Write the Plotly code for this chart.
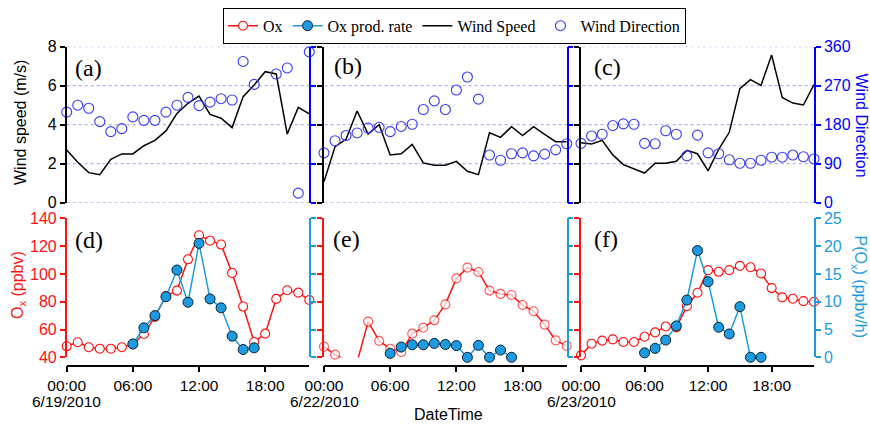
import plotly.graph_objects as go

# Hour of day for each hourly sample
hours = list(range(23))

# Wind speed (m/s) and wind direction (deg), per day
ws_0619 = [2.70, 2.07, 1.54, 1.44, 2.22, 2.50, 2.50, 2.92, 3.20, 3.68, 4.58, 5.10,
           5.47, 4.53, 4.33, 3.85, 5.44, 6.04, 6.72, 6.60, 3.52, 4.89, 4.55]
wd_0619 = [209, 225, 218, 187, 164, 171, 198, 190, 190, 209, 225, 243,
           224, 232, 240, 237, 326, 273, None, 297, 311, 22, 348]

ws_0622 = [1.08, 2.87, 3.25, 4.70, 3.52, 4.00, 2.45, 2.51, 2.99, 2.04, 1.92, 1.92,
           2.12, 1.61, 1.44, 3.59, 3.35, 3.90, 3.44, 3.90, 3.50, 3.13, 3.13]
wd_0622 = [115, 143, 155, 161, 172, 174, 164, 176, 181, 215, 235, 215,
           260, 290, 239, 110, 98, 113, 115, 108, 112, 122, 136]

ws_0623 = [3.08, 3.01, 3.20, 2.45, 1.95, 1.74, 1.52, 2.02, 2.02, 2.12, 2.69, 2.51,
           1.63, 2.74, 3.61, 5.85, 6.31, 6.02, 7.57, 5.40, 5.11, 5.01, 6.05]
wd_0623 = [137, 154, 158, 178, 182, 181, 137, 136, 166, 158, 108, 156,
           115, 113, 99, 91, 91, 98, 105, 105, 110, 106, 101]

# Ox (ppbv) and Ox production rate P(Ox) (ppbv/h), per day
ox_0619 = [47.9, 50.8, 47.2, 46.2, 46.2, 47.2, 49.4, 56.8, 69.0, 84.1, 88.0, 110.5,
           127.8, 123.9, 121.1, 100.7, 76.5, 51.0, 57.0, 82.0, 88.2, 86.5, 81.2]
pox_0619 = [None] * 6 + [2.4, 5.3, 7.5, 10.9, 15.7, 9.9, 20.5, 10.5, 8.9, 3.8, 1.4, 1.7] + [None] * 5

ox_0622 = [47.7, 41.9, 38.2, 36.5, 65.7, 51.8, 46.2, 43.8, 57.0, 61.3, 66.6, 78.1,
           96.8, 104.5, 101.4, 88.0, 85.6, 84.8, 77.6, 73.1, 63.5, 52.2, 48.2]
pox_0622 = [None] * 6 + [0.7, 1.85, 2.25, 2.25, 2.5, 2.3, 2.1, 0.0, 2.15, 0.0, 1.3, 0.0] + [None] * 5

ox_0623 = [41.4, 49.8, 52.0, 52.9, 51.0, 51.0, 54.8, 57.9, 62.2, 61.5, 76.8, 86.4,
           102.7, 101.5, 102.7, 105.8, 104.8, 100.3, 89.8, 83.1, 82.1, 80.4, 80.0]
pox_0623 = [None] * 6 + [0.8, 1.6, 3.1, 5.65, 10.3, 19.2, 13.6, 5.4, 4.2, 9.1, 0.0, 0.0] + [None] * 5

dates = ["6/19/2010", "6/22/2010", "6/23/2010"]
tick_hours = [0, 6, 12, 18]
tick_text = ["00:00", "06:00", "12:00", "18:00"]
ws_ticks = [0, 2, 4, 6, 8]
wd_ticks = [0, 90, 180, 270, 360]
ox_ticks = [40, 60, 80, 100, 120, 140]
pox_ticks = [0, 5, 10, 15, 20, 25]
panel_tags = ["(a)", "(b)", "(c)", "(d)", "(e)", "(f)"]

RED = "#ff1010"
LBLUE = "#1e9be0"
BLUE = "#0000ff"
WDBLUE = "#3a3af5"
SANS = "Liberation Sans, Arial, sans-serif"
SERIF = "Liberation Serif, Times New Roman, serif"

W, H = 870, 424
x_dom = [[66.7 / W, 309.3 / W], [324.0 / W, 566.7 / W], [581.0 / W, 814.0 / W]]
top_dom = [1 - 202.7 / H, 1 - 46.7 / H]
bot_dom = [1 - 357.3 / H, 1 - 218.3 / H]

fig = go.Figure()

ws_days = [ws_0619, ws_0622, ws_0623]
wd_days = [wd_0619, wd_0622, wd_0623]
ox_days = [ox_0619, ox_0622, ox_0623]
pox_days = [pox_0619, pox_0622, pox_0623]

for i in range(3):
    xa = "x" if i == 0 else f"x{i + 1}"
    y_ws = "y" if i == 0 else f"y{2 * i + 1}"
    y_wd = f"y{2 * i + 2}"
    y_ox = f"y{2 * i + 7}"
    y_px = f"y{2 * i + 8}"
    first = i == 0

    fig.add_trace(go.Scatter(
        x=hours, y=ws_days[i], xaxis=xa, yaxis=y_ws, mode="lines",
        line=dict(color="black", width=1.5), name="Wind Speed",
        legendgroup="ws", showlegend=first, legendrank=3))
    fig.add_trace(go.Scatter(
        x=hours, y=wd_days[i], xaxis=xa, yaxis=y_wd, mode="markers",
        marker=dict(symbol="circle-open", size=10, color=WDBLUE, line=dict(width=1.1)),
        name="Wind Direction", legendgroup="wd", showlegend=first, legendrank=4,
        cliponaxis=False))

    # Ox values that fall under the axis floor keep the line but drop the marker
    sizes = [9 if v >= 40 else 0 for v in ox_days[i]]
    fig.add_trace(go.Scatter(
        x=hours, y=ox_days[i], xaxis=xa, yaxis=y_ox, mode="lines+markers",
        line=dict(color=RED, width=1.5),
        marker=dict(symbol="circle", size=sizes if i == 1 else 9, color="white",
                    line=dict(color=RED, width=1.1)),
        name="Ox", legendgroup="ox", showlegend=first, legendrank=1,
        cliponaxis=False))
    fig.add_trace(go.Scatter(
        x=hours, y=pox_days[i], xaxis=xa, yaxis=y_px, mode="lines+markers",
        line=dict(color=LBLUE, width=1.5),
        marker=dict(symbol="circle", size=10, color=LBLUE,
                    line=dict(color="#0a1f33", width=1)),
        name="Ox prod. rate", legendgroup="pox", showlegend=first, legendrank=2,
        cliponaxis=False))

layout = dict(
    template="none",
    width=W, height=H,
    margin=dict(l=0, r=0, t=0, b=0, autoexpand=False),
    paper_bgcolor="white", plot_bgcolor="rgba(0,0,0,0)",
    font=dict(family=SANS, size=16, color="black"),
    showlegend=True,
    legend=dict(orientation="h", x=454.5 / W, xanchor="center", y=1 - 25.8 / H, yanchor="middle",
                font=dict(family=SERIF, size=16, color="black"),
                bordercolor="black", borderwidth=1, bgcolor="white",
                itemwidth=30, tracegroupgap=0),
)

for i in range(3):
    key = "xaxis" if i == 0 else f"xaxis{i + 1}"
    layout[key] = dict(
        domain=x_dom[i], range=[0, 22], anchor="free", position=1 - 365.7 / H,
        automargin=False,
        showline=True, linecolor="black", linewidth=1.5,
        ticks="outside", ticklen=6, tickwidth=1.5, tickcolor="black",
        tickvals=tick_hours, ticktext=tick_text,
        tickfont=dict(family=SANS, size=15.5, color="black"),
        showgrid=False, zeroline=False)


def yaxis(anchor, dom, rng, tickvals, color, side, labels, overlay=None):
    ax = dict(
        domain=dom, range=rng, anchor=anchor, side=side, automargin=False,
        showline=True, linecolor=color, linewidth=1.5,
        ticks="outside", ticklen=5, tickwidth=1.5, tickcolor=color,
        tickvals=tickvals, showticklabels=labels,
        tickfont=dict(family=SANS, size=16, color=color),
        showgrid=False, zeroline=False)
    if overlay:
        ax["overlaying"] = overlay
    return ax


for i in range(3):
    xa = "x" if i == 0 else f"x{i + 1}"
    ws_name = "yaxis" if i == 0 else f"yaxis{2 * i + 1}"
    ws_ref = "y" if i == 0 else f"y{2 * i + 1}"
    layout[ws_name] = yaxis(xa, top_dom, [0, 8], ws_ticks, "black", "left", i == 0)
    layout[f"yaxis{2 * i + 2}"] = yaxis(xa, top_dom, [0, 360], wd_ticks, BLUE, "right",
                                        i == 2, overlay=ws_ref)
    layout[f"yaxis{2 * i + 7}"] = yaxis(xa, bot_dom, [40, 140], ox_ticks, RED, "left", i == 0)
    layout[f"yaxis{2 * i + 8}"] = yaxis(xa, bot_dom, [0, 25], pox_ticks, LBLUE, "right",
                                        i == 2, overlay=f"y{2 * i + 7}")

fig.update_layout(**layout)

# Dotted wind-speed reference lines running across the three upper panels
for v in ws_ticks:
    fig.add_shape(type="line", xref="paper", yref="y", x0=x_dom[0][0], x1=x_dom[2][1],
                  y0=v, y1=v, layer="below",
                  line=dict(color="#a0a0f0", width=1, dash="dot"))

# Date under the midnight tick of each day
for i, d in enumerate(dates):
    xa = "x" if i == 0 else f"x{i + 1}"
    fig.add_annotation(text=d, xref=xa, yref="paper", x=0, y=1 - 401 / H,
                       xanchor="center", yanchor="middle", showarrow=False,
                       font=dict(family=SANS, size=15.5, color="black"))

# Panel tags
tag_xy = [(73.3, 68), (332, 66), (592, 67), (73.3, 240), (331, 239), (592, 239)]
for tag, (px, py) in zip(panel_tags, tag_xy):
    fig.add_annotation(text=tag, xref="paper", yref="paper", x=px / W, y=1 - py / H,
                       xanchor="left", yanchor="middle", showarrow=False,
                       font=dict(family=SERIF, size=24, color="black"))

# Axis titles
titles = [
    ("Wind speed (m/s)", 20, 123, -90, "black"),
    ("O<sub>x</sub> (ppbv)", 18, 285, -90, RED),
    ("Wind Direction", 860.5, 125, 90, BLUE),
    ("P(O<sub>x</sub>) (ppbv/h)", 859.5, 287, 90, LBLUE),
    ("DateTime", 449, 414, 0, "black"),
]
for text, px, py, ang, col in titles:
    fig.add_annotation(text=text, xref="paper", yref="paper", x=px / W, y=1 - py / H,
                       xanchor="center", yanchor="middle", showarrow=False, textangle=ang,
                       font=dict(family=SANS, size=16, color=col))

fig.write_html("out.html")
